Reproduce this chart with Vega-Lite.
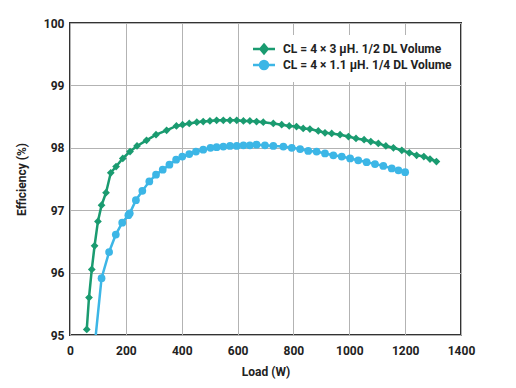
{
  "$schema": "https://vega.github.io/schema/vega-lite/v6.json",
  "width": 391,
  "height": 312,
  "autosize": "none",
  "padding": {"left": 70, "top": 23, "right": 55, "bottom": 53},
  "background": "white",
  "config": {
    "view": {"stroke": "#333333", "strokeWidth": 2},
    "font": "Roboto",
    "axis": {
      "labelFont": "Roboto", "labelFontWeight": "bold", "labelFontSize": 12, "labelColor": "#222222",
      "titleFont": "Roboto", "titleFontWeight": "bold", "titleFontSize": 12, "titleColor": "#222222",
      "gridColor": "#b3b3b3", "gridWidth": 1, "gridOpacity": 1,
      "domain": false, "ticks": false
    },
    "legend": {"labelFont": "Roboto", "labelFontWeight": "bold", "labelFontSize": 12, "labelColor": "#222222"}
  },
  "data": {"values": [
    {"s": "g", "load": 60, "eff": 95.09},
    {"s": "g", "load": 68, "eff": 95.6},
    {"s": "g", "load": 78, "eff": 96.05},
    {"s": "g", "load": 88, "eff": 96.43},
    {"s": "g", "load": 100, "eff": 96.82},
    {"s": "g", "load": 113, "eff": 97.08},
    {"s": "g", "load": 129, "eff": 97.28},
    {"s": "g", "load": 146, "eff": 97.6},
    {"s": "g", "load": 165, "eff": 97.7},
    {"s": "g", "load": 189, "eff": 97.83},
    {"s": "g", "load": 215, "eff": 97.94},
    {"s": "g", "load": 240, "eff": 98.03},
    {"s": "g", "load": 274, "eff": 98.12},
    {"s": "g", "load": 308, "eff": 98.21},
    {"s": "g", "load": 346, "eff": 98.28},
    {"s": "g", "load": 381, "eff": 98.35},
    {"s": "g", "load": 403, "eff": 98.37},
    {"s": "g", "load": 427, "eff": 98.39},
    {"s": "g", "load": 454, "eff": 98.41},
    {"s": "g", "load": 477, "eff": 98.42},
    {"s": "g", "load": 501, "eff": 98.43},
    {"s": "g", "load": 525, "eff": 98.44},
    {"s": "g", "load": 549, "eff": 98.44},
    {"s": "g", "load": 573, "eff": 98.44},
    {"s": "g", "load": 597, "eff": 98.44},
    {"s": "g", "load": 621, "eff": 98.43},
    {"s": "g", "load": 644, "eff": 98.43},
    {"s": "g", "load": 668, "eff": 98.42},
    {"s": "g", "load": 692, "eff": 98.41},
    {"s": "g", "load": 728, "eff": 98.39},
    {"s": "g", "load": 758, "eff": 98.37},
    {"s": "g", "load": 785, "eff": 98.35},
    {"s": "g", "load": 811, "eff": 98.34},
    {"s": "g", "load": 835, "eff": 98.31},
    {"s": "g", "load": 859, "eff": 98.3},
    {"s": "g", "load": 889, "eff": 98.27},
    {"s": "g", "load": 913, "eff": 98.24},
    {"s": "g", "load": 937, "eff": 98.23},
    {"s": "g", "load": 967, "eff": 98.21},
    {"s": "g", "load": 997, "eff": 98.18},
    {"s": "g", "load": 1024, "eff": 98.15},
    {"s": "g", "load": 1053, "eff": 98.13},
    {"s": "g", "load": 1077, "eff": 98.1},
    {"s": "g", "load": 1104, "eff": 98.07},
    {"s": "g", "load": 1131, "eff": 98.03},
    {"s": "g", "load": 1158, "eff": 98.0},
    {"s": "g", "load": 1188, "eff": 97.96},
    {"s": "g", "load": 1215, "eff": 97.92},
    {"s": "g", "load": 1241, "eff": 97.88},
    {"s": "g", "load": 1267, "eff": 97.86},
    {"s": "g", "load": 1289, "eff": 97.82},
    {"s": "g", "load": 1312, "eff": 97.78},
    {"s": "b", "load": 90, "eff": 94.9},
    {"s": "b", "load": 113, "eff": 95.91},
    {"s": "b", "load": 140, "eff": 96.33},
    {"s": "b", "load": 164, "eff": 96.61},
    {"s": "b", "load": 187, "eff": 96.8},
    {"s": "b", "load": 209, "eff": 96.92},
    {"s": "b", "load": 214, "eff": 96.95},
    {"s": "b", "load": 236, "eff": 97.16},
    {"s": "b", "load": 259, "eff": 97.31},
    {"s": "b", "load": 284, "eff": 97.46},
    {"s": "b", "load": 308, "eff": 97.57},
    {"s": "b", "load": 332, "eff": 97.65},
    {"s": "b", "load": 356, "eff": 97.73},
    {"s": "b", "load": 380, "eff": 97.81},
    {"s": "b", "load": 402, "eff": 97.86},
    {"s": "b", "load": 427, "eff": 97.9},
    {"s": "b", "load": 451, "eff": 97.94},
    {"s": "b", "load": 477, "eff": 97.97},
    {"s": "b", "load": 503, "eff": 98.0},
    {"s": "b", "load": 525, "eff": 98.01},
    {"s": "b", "load": 549, "eff": 98.02},
    {"s": "b", "load": 573, "eff": 98.03},
    {"s": "b", "load": 597, "eff": 98.03},
    {"s": "b", "load": 621, "eff": 98.04},
    {"s": "b", "load": 644, "eff": 98.04},
    {"s": "b", "load": 668, "eff": 98.05},
    {"s": "b", "load": 698, "eff": 98.04},
    {"s": "b", "load": 728, "eff": 98.03},
    {"s": "b", "load": 764, "eff": 98.02},
    {"s": "b", "load": 794, "eff": 98.0},
    {"s": "b", "load": 824, "eff": 97.98},
    {"s": "b", "load": 853, "eff": 97.95},
    {"s": "b", "load": 883, "eff": 97.94},
    {"s": "b", "load": 913, "eff": 97.91},
    {"s": "b", "load": 943, "eff": 97.88},
    {"s": "b", "load": 973, "eff": 97.86},
    {"s": "b", "load": 1003, "eff": 97.83},
    {"s": "b", "load": 1032, "eff": 97.8},
    {"s": "b", "load": 1062, "eff": 97.77},
    {"s": "b", "load": 1092, "eff": 97.74},
    {"s": "b", "load": 1122, "eff": 97.71},
    {"s": "b", "load": 1152, "eff": 97.67},
    {"s": "b", "load": 1176, "eff": 97.64},
    {"s": "b", "load": 1200, "eff": 97.61}
  ]},
  "encoding": {
    "x": {"field": "load", "type": "quantitative", "title": "Load (W)",
      "scale": {"domain": [0, 1400], "nice": false},
      "axis": {"values": [0, 200, 400, 600, 800, 1000, 1200, 1400], "format": "d", "labelPadding": 10, "titlePadding": 10, "labelFlush": false}},
    "y": {"field": "eff", "type": "quantitative", "title": "Efficiency (%)",
      "scale": {"domain": [95, 100], "nice": false, "zero": false},
      "axis": {"values": [95, 96, 97, 98, 99, 100], "labelPadding": 6, "titlePadding": 15, "labelFlush": false}},
    "color": {"field": "s", "type": "nominal",
      "scale": {"domain": ["g", "b"], "range": ["#1a9b70", "#3cb6e6"]},
      "legend": {
        "title": null, "orient": "none", "legendX": 180, "legendY": 12,
        "padding": 8, "fillColor": "white", "strokeColor": null, "labelLimit": 300,
        "symbolSize": 64, "symbolStrokeWidth": 2.5, "labelOffset": 13, "rowPadding": -4,
        "labelExpr": "datum.value === 'g' ? 'CL = 4 × 3 µH. 1/2 DL Volume' : 'CL = 4 × 1.1 µH. 1/4 DL Volume'",
        "encode": {"symbols": {"update": {
          "shape": {"signal": "datum.value === 'g' ? 'M-2.75,0H2.75M0,-1.1L0.9,0L0,1.1L-0.9,0Z' : 'M-2.75,0H2.75M1,0A1,1 0 1,1 -1,0A1,1 0 1,1 1,0Z'"},
          "fill": {"scale": "color", "field": "value"},
          "stroke": {"scale": "color", "field": "value"},
          "strokeWidth": {"value": 2.5}
        }}}
      }
    }
  },
  "layer": [
    {
      "mark": {"type": "line", "strokeWidth": 2.5, "clip": true}
    },
    {
      "transform": [{"filter": "datum.s === 'g'"}],
      "mark": {"type": "point", "filled": true, "opacity": 1, "size": 60, "shape": "diamond", "clip": true}
    },
    {
      "transform": [{"filter": "datum.s === 'b'"}],
      "mark": {"type": "point", "filled": true, "opacity": 1, "size": 60, "shape": "circle", "clip": true}
    }
  ]
}
